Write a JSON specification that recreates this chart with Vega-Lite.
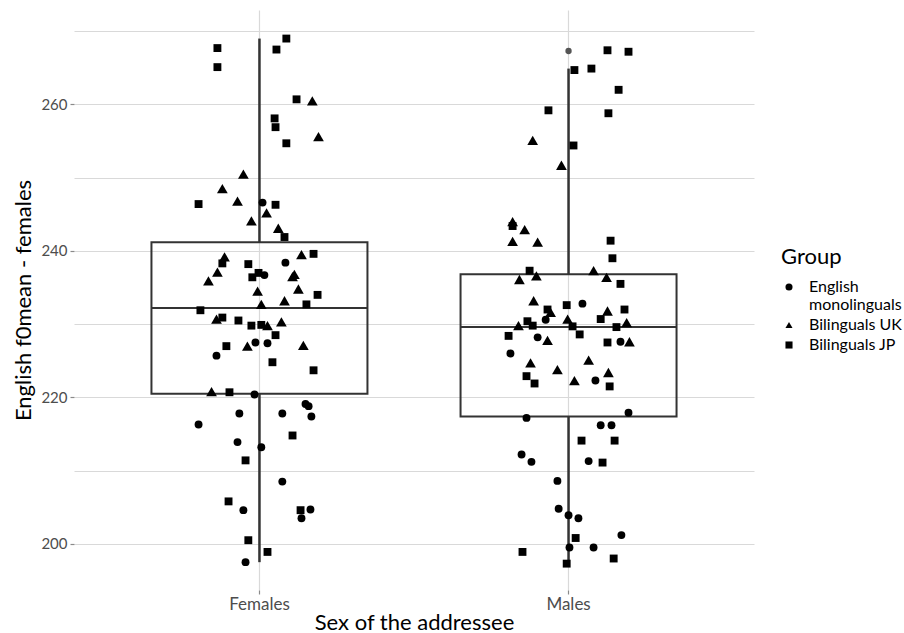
{
  "$schema": "https://vega.github.io/schema/vega-lite/v6.json",
  "width": 680,
  "height": 580,
  "autosize": {"type": "none"},
  "padding": {"left": 74, "top": 10, "right": 150, "bottom": 43},
  "config": {
    "font": "Lato",
    "view": {"stroke": null},
    "axis": {
      "domain": false,
      "grid": true,
      "gridColor": "#d9d9d9",
      "gridWidth": 1.2,
      "tickSize": 4,
      "tickColor": "#8a8a8a",
      "tickWidth": 1.2,
      "labelFont": "Lato",
      "labelFontSize": 15,
      "labelColor": "#4d4d4d",
      "labelPadding": 3,
      "titleFont": "Lato",
      "titleFontSize": 22,
      "titleFontWeight": "normal",
      "titleColor": "#000000"
    },
    "legend": {
      "titleFont": "Lato",
      "titleFontSize": 22,
      "titleFontWeight": "normal",
      "titleColor": "#000000",
      "labelFont": "Lato",
      "labelFontSize": 16,
      "labelColor": "#000000"
    }
  },
  "datasets": {
    "points": [
      {"sex": "Females", "group": "Bilinguals JP", "jitter": -0.136, "f0": 267.7},
      {"sex": "Females", "group": "Bilinguals JP", "jitter": 0.087, "f0": 269.0},
      {"sex": "Females", "group": "Bilinguals JP", "jitter": 0.055, "f0": 267.5},
      {"sex": "Females", "group": "Bilinguals JP", "jitter": -0.136, "f0": 265.1},
      {"sex": "Females", "group": "Bilinguals JP", "jitter": 0.120, "f0": 260.7},
      {"sex": "Females", "group": "Bilinguals UK", "jitter": 0.171, "f0": 260.5},
      {"sex": "Females", "group": "Bilinguals JP", "jitter": 0.049, "f0": 258.1},
      {"sex": "Females", "group": "Bilinguals JP", "jitter": 0.052, "f0": 256.9},
      {"sex": "Females", "group": "Bilinguals UK", "jitter": 0.191, "f0": 255.6},
      {"sex": "Females", "group": "Bilinguals JP", "jitter": 0.087, "f0": 254.7},
      {"sex": "Females", "group": "Bilinguals UK", "jitter": -0.052, "f0": 250.5},
      {"sex": "Females", "group": "Bilinguals UK", "jitter": -0.120, "f0": 248.5},
      {"sex": "Females", "group": "Bilinguals UK", "jitter": -0.071, "f0": 246.8},
      {"sex": "Females", "group": "Bilinguals JP", "jitter": -0.197, "f0": 246.4},
      {"sex": "Females", "group": "English monolinguals", "jitter": 0.010, "f0": 246.6},
      {"sex": "Females", "group": "Bilinguals JP", "jitter": 0.052, "f0": 246.3},
      {"sex": "Females", "group": "Bilinguals UK", "jitter": 0.023, "f0": 245.2},
      {"sex": "Females", "group": "Bilinguals UK", "jitter": -0.026, "f0": 244.1},
      {"sex": "Females", "group": "Bilinguals UK", "jitter": 0.061, "f0": 243.1},
      {"sex": "Females", "group": "Bilinguals JP", "jitter": 0.081, "f0": 241.9},
      {"sex": "Females", "group": "Bilinguals UK", "jitter": -0.113, "f0": 239.2},
      {"sex": "Females", "group": "Bilinguals JP", "jitter": -0.120, "f0": 238.3},
      {"sex": "Females", "group": "Bilinguals UK", "jitter": 0.136, "f0": 239.5},
      {"sex": "Females", "group": "Bilinguals JP", "jitter": 0.175, "f0": 239.6},
      {"sex": "Females", "group": "English monolinguals", "jitter": 0.084, "f0": 238.4},
      {"sex": "Females", "group": "Bilinguals JP", "jitter": -0.036, "f0": 238.2},
      {"sex": "Females", "group": "Bilinguals UK", "jitter": -0.136, "f0": 237.1},
      {"sex": "Females", "group": "Bilinguals UK", "jitter": -0.165, "f0": 235.9},
      {"sex": "Females", "group": "Bilinguals JP", "jitter": -0.003, "f0": 237.0},
      {"sex": "Females", "group": "English monolinguals", "jitter": 0.016, "f0": 236.7},
      {"sex": "Females", "group": "Bilinguals JP", "jitter": -0.023, "f0": 236.4},
      {"sex": "Females", "group": "Bilinguals UK", "jitter": 0.113, "f0": 236.8},
      {"sex": "Females", "group": "Bilinguals UK", "jitter": 0.107, "f0": 236.5},
      {"sex": "Females", "group": "Bilinguals UK", "jitter": 0.126, "f0": 234.8},
      {"sex": "Females", "group": "Bilinguals UK", "jitter": -0.006, "f0": 234.5},
      {"sex": "Females", "group": "Bilinguals JP", "jitter": 0.188, "f0": 234.0},
      {"sex": "Females", "group": "Bilinguals UK", "jitter": 0.081, "f0": 233.2},
      {"sex": "Females", "group": "Bilinguals UK", "jitter": 0.006, "f0": 232.7},
      {"sex": "Females", "group": "Bilinguals JP", "jitter": 0.152, "f0": 232.7},
      {"sex": "Females", "group": "Bilinguals JP", "jitter": -0.191, "f0": 231.9},
      {"sex": "Females", "group": "Bilinguals UK", "jitter": -0.139, "f0": 230.7},
      {"sex": "Females", "group": "Bilinguals JP", "jitter": -0.120, "f0": 230.9},
      {"sex": "Females", "group": "Bilinguals JP", "jitter": -0.068, "f0": 230.5},
      {"sex": "Females", "group": "Bilinguals JP", "jitter": -0.026, "f0": 229.8},
      {"sex": "Females", "group": "Bilinguals JP", "jitter": 0.006, "f0": 229.9},
      {"sex": "Females", "group": "Bilinguals UK", "jitter": 0.026, "f0": 229.8},
      {"sex": "Females", "group": "Bilinguals UK", "jitter": 0.071, "f0": 230.3},
      {"sex": "Females", "group": "Bilinguals JP", "jitter": 0.052, "f0": 228.5},
      {"sex": "Females", "group": "Bilinguals UK", "jitter": -0.039, "f0": 227.0},
      {"sex": "Females", "group": "English monolinguals", "jitter": -0.013, "f0": 227.5},
      {"sex": "Females", "group": "English monolinguals", "jitter": 0.026, "f0": 227.4},
      {"sex": "Females", "group": "Bilinguals UK", "jitter": 0.142, "f0": 227.1},
      {"sex": "Females", "group": "Bilinguals JP", "jitter": -0.107, "f0": 227.0},
      {"sex": "Females", "group": "English monolinguals", "jitter": -0.139, "f0": 225.7},
      {"sex": "Females", "group": "Bilinguals JP", "jitter": 0.042, "f0": 224.8},
      {"sex": "Females", "group": "Bilinguals JP", "jitter": 0.175, "f0": 223.7},
      {"sex": "Females", "group": "Bilinguals UK", "jitter": -0.155, "f0": 220.8},
      {"sex": "Females", "group": "Bilinguals JP", "jitter": -0.097, "f0": 220.7},
      {"sex": "Females", "group": "English monolinguals", "jitter": -0.016, "f0": 220.4},
      {"sex": "Females", "group": "English monolinguals", "jitter": 0.149, "f0": 219.1},
      {"sex": "Females", "group": "English monolinguals", "jitter": 0.159, "f0": 218.8},
      {"sex": "Females", "group": "English monolinguals", "jitter": -0.065, "f0": 217.8},
      {"sex": "Females", "group": "English monolinguals", "jitter": 0.074, "f0": 217.8},
      {"sex": "Females", "group": "English monolinguals", "jitter": 0.168, "f0": 217.4},
      {"sex": "Females", "group": "English monolinguals", "jitter": -0.197, "f0": 216.3},
      {"sex": "Females", "group": "Bilinguals JP", "jitter": 0.107, "f0": 214.8},
      {"sex": "Females", "group": "English monolinguals", "jitter": -0.071, "f0": 213.9},
      {"sex": "Females", "group": "English monolinguals", "jitter": 0.006, "f0": 213.2},
      {"sex": "Females", "group": "Bilinguals JP", "jitter": -0.045, "f0": 211.4},
      {"sex": "Females", "group": "English monolinguals", "jitter": 0.074, "f0": 208.5},
      {"sex": "Females", "group": "Bilinguals JP", "jitter": -0.100, "f0": 205.8},
      {"sex": "Females", "group": "English monolinguals", "jitter": -0.052, "f0": 204.6},
      {"sex": "Females", "group": "Bilinguals JP", "jitter": 0.133, "f0": 204.6},
      {"sex": "Females", "group": "English monolinguals", "jitter": 0.165, "f0": 204.7},
      {"sex": "Females", "group": "English monolinguals", "jitter": 0.136, "f0": 203.5},
      {"sex": "Females", "group": "Bilinguals JP", "jitter": -0.036, "f0": 200.5},
      {"sex": "Females", "group": "Bilinguals JP", "jitter": 0.026, "f0": 198.9},
      {"sex": "Females", "group": "English monolinguals", "jitter": -0.045, "f0": 197.5},
      {"sex": "Males", "group": "Bilinguals JP", "jitter": 0.126, "f0": 267.4},
      {"sex": "Males", "group": "Bilinguals JP", "jitter": 0.194, "f0": 267.2},
      {"sex": "Males", "group": "Bilinguals JP", "jitter": 0.019, "f0": 264.7},
      {"sex": "Males", "group": "Bilinguals JP", "jitter": 0.074, "f0": 264.9},
      {"sex": "Males", "group": "Bilinguals JP", "jitter": 0.162, "f0": 262.0},
      {"sex": "Males", "group": "Bilinguals JP", "jitter": -0.065, "f0": 259.2},
      {"sex": "Males", "group": "Bilinguals JP", "jitter": 0.129, "f0": 258.8},
      {"sex": "Males", "group": "Bilinguals UK", "jitter": -0.116, "f0": 255.1},
      {"sex": "Males", "group": "Bilinguals JP", "jitter": 0.016, "f0": 254.4},
      {"sex": "Males", "group": "Bilinguals UK", "jitter": -0.023, "f0": 251.7},
      {"sex": "Males", "group": "Bilinguals JP", "jitter": -0.181, "f0": 243.4},
      {"sex": "Males", "group": "Bilinguals UK", "jitter": -0.181, "f0": 244.0},
      {"sex": "Males", "group": "Bilinguals UK", "jitter": -0.142, "f0": 242.9},
      {"sex": "Males", "group": "Bilinguals UK", "jitter": -0.181, "f0": 241.3},
      {"sex": "Males", "group": "Bilinguals UK", "jitter": -0.100, "f0": 241.2},
      {"sex": "Males", "group": "Bilinguals JP", "jitter": 0.136, "f0": 241.4},
      {"sex": "Males", "group": "Bilinguals JP", "jitter": 0.142, "f0": 239.0},
      {"sex": "Males", "group": "Bilinguals JP", "jitter": -0.126, "f0": 237.3},
      {"sex": "Males", "group": "Bilinguals UK", "jitter": -0.159, "f0": 236.1},
      {"sex": "Males", "group": "Bilinguals UK", "jitter": -0.104, "f0": 236.6},
      {"sex": "Males", "group": "Bilinguals UK", "jitter": 0.081, "f0": 237.3},
      {"sex": "Males", "group": "Bilinguals UK", "jitter": 0.123, "f0": 236.4},
      {"sex": "Males", "group": "Bilinguals JP", "jitter": 0.168, "f0": 235.5},
      {"sex": "Males", "group": "Bilinguals UK", "jitter": -0.113, "f0": 233.2},
      {"sex": "Males", "group": "Bilinguals JP", "jitter": -0.068, "f0": 232.0},
      {"sex": "Males", "group": "Bilinguals UK", "jitter": -0.058, "f0": 231.6},
      {"sex": "Males", "group": "Bilinguals JP", "jitter": -0.006, "f0": 232.6},
      {"sex": "Males", "group": "English monolinguals", "jitter": 0.045, "f0": 232.8},
      {"sex": "Males", "group": "Bilinguals UK", "jitter": 0.126, "f0": 231.8},
      {"sex": "Males", "group": "Bilinguals JP", "jitter": 0.181, "f0": 232.0},
      {"sex": "Males", "group": "English monolinguals", "jitter": -0.074, "f0": 230.6},
      {"sex": "Males", "group": "Bilinguals UK", "jitter": -0.003, "f0": 230.7},
      {"sex": "Males", "group": "Bilinguals UK", "jitter": -0.162, "f0": 229.8},
      {"sex": "Males", "group": "Bilinguals JP", "jitter": -0.133, "f0": 230.4},
      {"sex": "Males", "group": "Bilinguals JP", "jitter": -0.116, "f0": 229.8},
      {"sex": "Males", "group": "Bilinguals JP", "jitter": 0.013, "f0": 229.7},
      {"sex": "Males", "group": "Bilinguals JP", "jitter": 0.104, "f0": 230.7},
      {"sex": "Males", "group": "Bilinguals JP", "jitter": 0.155, "f0": 229.6},
      {"sex": "Males", "group": "Bilinguals UK", "jitter": 0.188, "f0": 230.2},
      {"sex": "Males", "group": "Bilinguals JP", "jitter": -0.194, "f0": 228.4},
      {"sex": "Males", "group": "English monolinguals", "jitter": -0.100, "f0": 228.2},
      {"sex": "Males", "group": "Bilinguals UK", "jitter": -0.068, "f0": 227.8},
      {"sex": "Males", "group": "Bilinguals JP", "jitter": 0.036, "f0": 228.6},
      {"sex": "Males", "group": "Bilinguals JP", "jitter": 0.126, "f0": 227.5},
      {"sex": "Males", "group": "English monolinguals", "jitter": 0.168, "f0": 227.6},
      {"sex": "Males", "group": "Bilinguals UK", "jitter": 0.197, "f0": 227.6},
      {"sex": "Males", "group": "English monolinguals", "jitter": -0.188, "f0": 226.0},
      {"sex": "Males", "group": "Bilinguals UK", "jitter": -0.123, "f0": 224.7},
      {"sex": "Males", "group": "Bilinguals UK", "jitter": -0.036, "f0": 223.8},
      {"sex": "Males", "group": "Bilinguals UK", "jitter": 0.065, "f0": 225.1},
      {"sex": "Males", "group": "Bilinguals UK", "jitter": 0.129, "f0": 223.4},
      {"sex": "Males", "group": "English monolinguals", "jitter": 0.087, "f0": 222.3},
      {"sex": "Males", "group": "Bilinguals JP", "jitter": -0.136, "f0": 222.9},
      {"sex": "Males", "group": "Bilinguals JP", "jitter": -0.110, "f0": 221.9},
      {"sex": "Males", "group": "Bilinguals UK", "jitter": 0.019, "f0": 222.3},
      {"sex": "Males", "group": "Bilinguals JP", "jitter": 0.133, "f0": 221.5},
      {"sex": "Males", "group": "English monolinguals", "jitter": -0.136, "f0": 217.2},
      {"sex": "Males", "group": "English monolinguals", "jitter": 0.194, "f0": 217.9},
      {"sex": "Males", "group": "English monolinguals", "jitter": 0.104, "f0": 216.2},
      {"sex": "Males", "group": "English monolinguals", "jitter": 0.139, "f0": 216.2},
      {"sex": "Males", "group": "Bilinguals JP", "jitter": 0.042, "f0": 214.1},
      {"sex": "Males", "group": "Bilinguals JP", "jitter": 0.149, "f0": 214.1},
      {"sex": "Males", "group": "English monolinguals", "jitter": -0.152, "f0": 212.2},
      {"sex": "Males", "group": "English monolinguals", "jitter": -0.120, "f0": 211.2},
      {"sex": "Males", "group": "English monolinguals", "jitter": 0.065, "f0": 211.3},
      {"sex": "Males", "group": "Bilinguals JP", "jitter": 0.110, "f0": 211.1},
      {"sex": "Males", "group": "English monolinguals", "jitter": -0.036, "f0": 208.6},
      {"sex": "Males", "group": "English monolinguals", "jitter": -0.032, "f0": 204.8},
      {"sex": "Males", "group": "English monolinguals", "jitter": 0.000, "f0": 203.9},
      {"sex": "Males", "group": "English monolinguals", "jitter": 0.032, "f0": 203.5},
      {"sex": "Males", "group": "Bilinguals JP", "jitter": 0.023, "f0": 200.8},
      {"sex": "Males", "group": "English monolinguals", "jitter": 0.171, "f0": 201.2},
      {"sex": "Males", "group": "Bilinguals JP", "jitter": -0.149, "f0": 198.9},
      {"sex": "Males", "group": "English monolinguals", "jitter": 0.003, "f0": 199.5},
      {"sex": "Males", "group": "English monolinguals", "jitter": 0.081, "f0": 199.5},
      {"sex": "Males", "group": "Bilinguals JP", "jitter": 0.146, "f0": 198.0},
      {"sex": "Males", "group": "Bilinguals JP", "jitter": -0.006, "f0": 197.3}
    ],
    "boxes": [
      {"sex": "Females", "lower": 197.5, "q1": 220.5, "median": 232.2, "q3": 241.2, "upper": 269.0},
      {"sex": "Males", "lower": 197.3, "q1": 217.4, "median": 229.6, "q3": 236.8, "upper": 264.9}
    ],
    "outliers": [
      {"sex": "Males", "f0": 267.3}
    ]
  },
  "encoding": {
    "x": {
      "field": "sex",
      "type": "nominal",
      "sort": ["Females", "Males"],
      "scale": {"paddingInner": 0.3, "paddingOuter": 0.25},
      "axis": {"title": "Sex of the addressee", "labelAngle": 0, "bandPosition": 0.5, "titlePadding": 0, "labelPadding": 2, "labelFontSize": 17}
    }
  },
  "layer": [
    {
      "data": {"name": "boxes"},
      "mark": {"type": "rule", "stroke": "#333333", "strokeWidth": 2.5},
      "encoding": {
        "y": {"field": "q3", "type": "quantitative"},
        "y2": {"field": "upper"}
      }
    },
    {
      "data": {"name": "boxes"},
      "mark": {"type": "rule", "stroke": "#333333", "strokeWidth": 2.5},
      "encoding": {
        "y": {"field": "lower", "type": "quantitative"},
        "y2": {"field": "q1"}
      }
    },
    {
      "data": {"name": "boxes"},
      "mark": {"type": "bar", "width": 216, "fill": "transparent", "stroke": "#333333", "strokeWidth": 2},
      "encoding": {
        "y": {"field": "q1", "type": "quantitative"},
        "y2": {"field": "q3"}
      }
    },
    {
      "data": {"name": "boxes"},
      "mark": {"type": "bar", "width": 216, "fill": "transparent", "stroke": "#333333", "strokeWidth": 2},
      "encoding": {
        "y": {"field": "median", "type": "quantitative"},
        "y2": {"field": "median"}
      }
    },
    {
      "data": {"name": "outliers"},
      "mark": {"type": "point", "shape": "circle", "filled": true, "color": "#555555", "size": 40, "opacity": 1},
      "encoding": {
        "y": {"field": "f0", "type": "quantitative"}
      }
    },
    {
      "data": {"name": "points"},
      "mark": {"type": "point", "filled": true, "color": "#000000", "opacity": 1},
      "encoding": {
        "xOffset": {"field": "jitter", "type": "quantitative", "scale": {"domain": [-0.35, 0.35]}},
        "y": {
          "field": "f0",
          "type": "quantitative",
          "title": "English f0mean - females",
          "scale": {"domain": [193.7, 272.9], "nice": false, "zero": false},
          "axis": {
            "values": [200, 210, 220, 230, 240, 250, 260, 270],
            "labelExpr": "datum.value % 20 == 0 ? datum.label : ''",
            "tickOpacity": {"condition": {"test": "datum.value % 20 != 0", "value": 0}, "value": 1},
            "titlePadding": 5
          }
        },
        "size": {"condition": {"test": "datum.group == 'Bilinguals UK'", "value": 115}, "value": 62},
        "shape": {
          "field": "group",
          "type": "nominal",
          "scale": {
            "domain": ["English monolinguals", "Bilinguals UK", "Bilinguals JP"],
            "range": ["circle", "triangle-up", "square"]
          },
          "legend": {
            "title": "Group",
            "orient": "none",
            "legendX": 707,
            "legendY": 237,
            "symbolFillColor": "#000000",
            "symbolStrokeWidth": 0,
            "symbolSize": 50,
            "titlePadding": 10,
            "labelOffset": 12,
            "rowPadding": 4,
            "labelExpr": "datum.label == 'English monolinguals' ? ['English', 'monolinguals'] : datum.label"
          }
        }
      }
    }
  ]
}
